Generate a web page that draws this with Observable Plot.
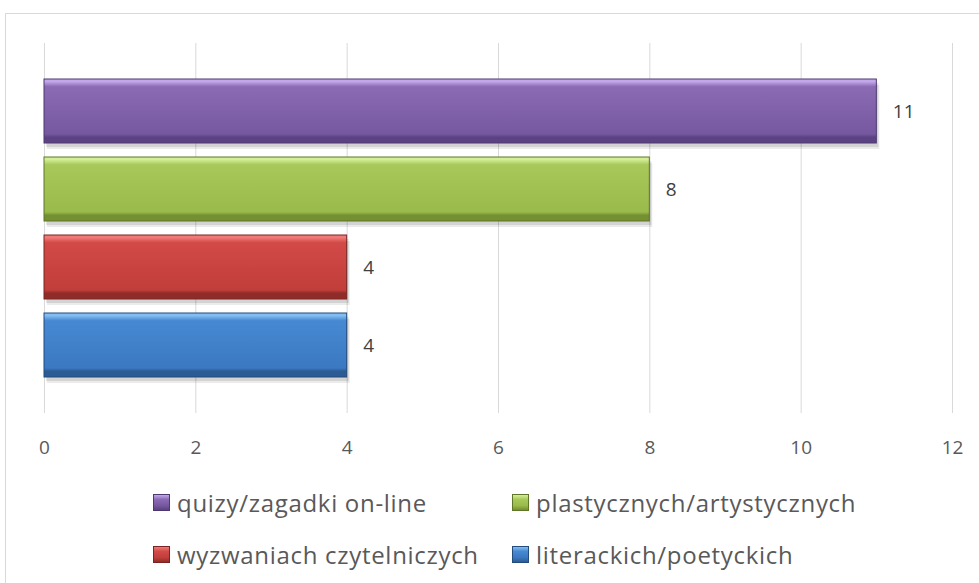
<!DOCTYPE html>
<html>
<head>
<meta charset="utf-8">
<script src="https://cdn.jsdelivr.net/npm/d3@7"></script>
<script src="https://cdn.jsdelivr.net/npm/@observablehq/plot@0.6"></script>
<style>
  html, body { margin: 0; padding: 0; background: #fff; }
  body { width: 979px; height: 583px; position: relative; overflow: hidden; font-family: "Open Sans", sans-serif; }
  #frame { position: absolute; left: 5px; top: 13px; width: 980px; height: 580px; border: 1px solid #d9d9d9; box-sizing: border-box; }
  #chart { position: absolute; left: 6px; top: 14px; }
  .leg { position: absolute; display: flex; align-items: center; color: #595959; font-size: 24px; letter-spacing: 0.7px; white-space: nowrap; height: 20px; }
  .sw { width: 17px; height: 17px; margin-right: 7px; box-sizing: border-box; }
</style>
</head>
<body>
<div id="frame"></div>
<div id="chart"></div>
<script>
// ---- data ----
const categories = ["quizy/zagadki on-line", "plastycznych/artystycznych", "wyzwaniach czytelniczych", "literackich/poetyckich"];
const values = [11, 8, 4, 4];
const ticks = [0, 2, 4, 6, 8, 10, 12];
// colour sets: [highlight, light, base, dark, edge]
const palettes = [
  ["#c2a8ea", "#8a6bb4", "#7658a0", "#5b4282", "#4e3870"],
  ["#d4ee96", "#a8c85a", "#9aba4c", "#758f33", "#5f7628"],
  ["#ef7a78", "#d24a47", "#c13e3b", "#8f2c2a", "#7a2422"],
  ["#84bdf2", "#4689d2", "#3b79c2", "#2c5b94", "#234b7c"]
];

const data = categories.map((name, i) => ({ name, value: values[i], grad: `url(#bev${i})`, edge: palettes[i][4] }));

const chart = Plot.plot({
  width: 972,
  height: 460,
  marginLeft: 38,
  marginRight: 26,
  marginTop: 29,
  marginBottom: 61,
  style: { fontFamily: "'Open Sans', sans-serif", background: "transparent" },
  x: { domain: [0, 12], ticks: ticks },
  y: { domain: categories, paddingInner: 0.18, paddingOuter: 0.46, axis: null },
  color: { type: "identity" },
  marks: [
    Plot.gridX(ticks, { stroke: "#d9d9d9", strokeOpacity: 1, strokeWidth: 1 }),
    Plot.axisX(ticks, { tickSize: 0, tickPadding: 27, fontSize: 19, fill: "#595959", label: null }),
    // soft shadow
    Plot.barX(data, { x: "value", y: "name", fill: "#000", fillOpacity: 0.10, dx: 2, dy: 4 }),
    Plot.barX(data, { x: "value", y: "name", fill: "#000", fillOpacity: 0.08, dx: 3, dy: 6 }),
    // bevelled bars
    Plot.barX(data, { x: "value", y: "name", fill: "grad", stroke: "edge", strokeWidth: 1 }),
    Plot.text(data, { x: "value", y: "name", text: d => String(d.value), dx: 16, textAnchor: "start", fontSize: 19, fill: "#404040" })
  ]
});

// gradient definitions for the bevel look
const svg = d3.select(chart);
const defs = svg.insert("defs", ":first-child");
palettes.forEach((p, i) => {
  const g = defs.append("linearGradient").attr("id", `bev${i}`).attr("x1", 0).attr("y1", 0).attr("x2", 0).attr("y2", 1);
  [[0, p[0]], [0.04, p[0]], [0.12, p[1]], [0.86, p[2]], [0.91, p[3]], [1, p[3]]].forEach(([o, c]) =>
    g.append("stop").attr("offset", o).attr("stop-color", c));
});
document.getElementById("chart").appendChild(chart);

// legend
const legendPos = [[153, 492], [512, 492], [153, 544], [512, 544]];
categories.forEach((name, i) => {
  const p = palettes[i];
  const d = document.createElement("div");
  d.className = "leg";
  d.style.left = legendPos[i][0] + "px";
  d.style.top = legendPos[i][1] + "px";
  const sw = document.createElement("div");
  sw.className = "sw";
  sw.style.background = `linear-gradient(to bottom, ${p[0]} 0%, ${p[1]} 30%, ${p[2]} 70%, ${p[3]} 100%)`;
  sw.style.border = `1px solid ${p[4]}`;
  const t = document.createElement("span");
  t.textContent = name;
  d.appendChild(sw);
  d.appendChild(t);
  document.body.appendChild(d);
});
</script>
</body>
</html>
